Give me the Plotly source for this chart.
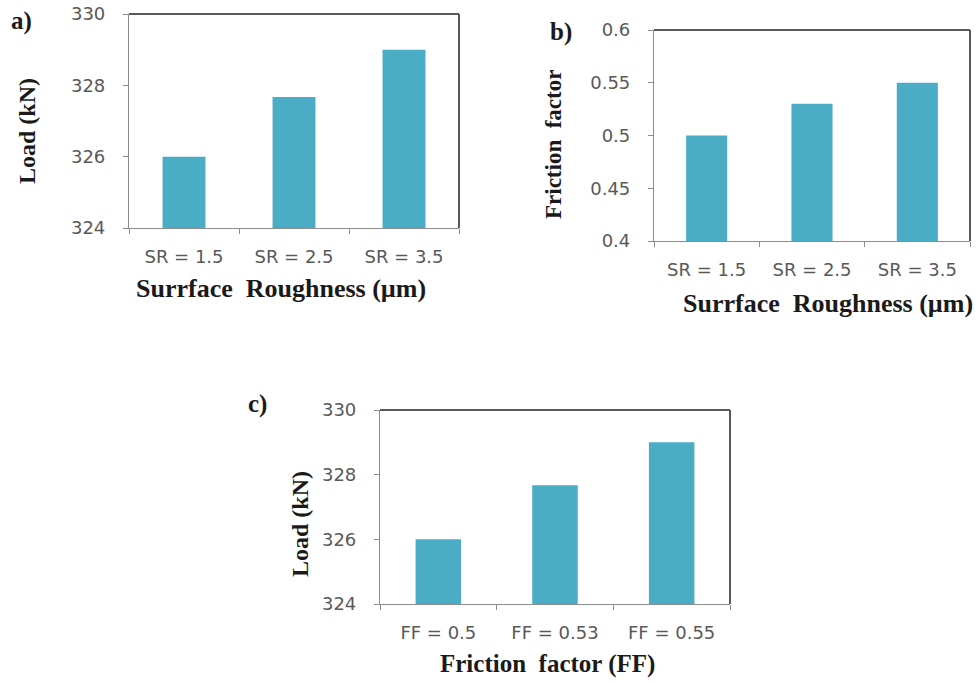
import plotly.graph_objects as go

# ---- data ----
sr_labels = ["SR = 1.5", "SR = 2.5", "SR = 3.5"]
load_vs_sr = [326.0, 327.67, 329.0]
friction_vs_sr = [0.5, 0.53, 0.55]
ff_labels = ["FF = 0.5", "FF = 0.53", "FF = 0.55"]
load_vs_ff = [326.0, 327.67, 329.0]

load_ticks = [324, 326, 328, 330]
friction_ticks = [0.4, 0.45, 0.5, 0.55, 0.6]
friction_ticktext = ["0.4", "0.45", "0.5", "0.55", "0.6"]

W, H = 979, 683
BAR = "#4BACC6"
TICKC = "#595959"
AXC = "#8C8C8C"
BORDER = "#595959"
TICKFONT = dict(family="DejaVu Sans", size=18, color=TICKC)
TITLEFONT = dict(family="Liberation Serif", size=26, color="#1a1a1a")

def px_x(x):
    return x / W

def px_y(y):
    return 1 - y / H

fig = go.Figure()

panels = [
    ("x", "y", (129, 459), (14, 228), sr_labels, load_vs_sr, [324, 330], load_ticks, [str(t) for t in load_ticks]),
    ("x2", "y2", (654, 970), (30, 241), sr_labels, friction_vs_sr, [0.4, 0.6], friction_ticks, friction_ticktext),
    ("x3", "y3", (380, 730), (410, 604), ff_labels, load_vs_ff, [324, 330], load_ticks, [str(t) for t in load_ticks]),
]

layout_axes = {}
for xa, ya, (xl, xr), (yt, yb), cats, vals, yr, tv, tt in panels:
    fig.add_trace(go.Bar(x=cats, y=vals, xaxis=xa, yaxis=ya, marker=dict(color=BAR, line=dict(width=0)),
                         showlegend=False))
    xkey = "xaxis" + xa[1:]
    ykey = "yaxis" + ya[1:]
    layout_axes[xkey] = dict(
        domain=[px_x(xl), px_x(xr)], anchor=ya, type="category",
        showline=True, linecolor=AXC, linewidth=1.2, mirror=False,
        ticks="outside", tickson="boundaries", ticklen=5, tickcolor=AXC,
        tickfont=TICKFONT, showgrid=False, zeroline=False, ticklabelstandoff=12,
        fixedrange=True, automargin=False,
    )
    layout_axes[ykey] = dict(
        domain=[px_y(yb), px_y(yt)], anchor=xa, range=yr,
        tickvals=tv, ticktext=tt,
        showline=True, linecolor=AXC, linewidth=1.2, mirror=False,
        ticks="outside", ticklen=5, tickcolor=AXC,
        tickfont=TICKFONT, showgrid=False, zeroline=False, ticklabelstandoff=14,
        fixedrange=True, automargin=False,
    )
    fig.add_shape(type="line", xref=f"{xa} domain", yref=f"{ya} domain", x0=0, x1=1, y0=1, y1=1,
                  line=dict(color=BORDER, width=2))
    fig.add_shape(type="line", xref=f"{xa} domain", yref=f"{ya} domain", x0=1, x1=1, y0=0, y1=1,
                  line=dict(color=BORDER, width=2))

annotations = [
    dict(text="<b>a)</b>", x=px_x(21), y=px_y(21), size=25),
    dict(text="<b>b)</b>", x=px_x(561), y=px_y(32), size=25),
    dict(text="<b>c)</b>", x=px_x(257), y=px_y(404), size=25),
    dict(text="<b>Surrface  Roughness (µm)</b>", x=px_x(281), y=px_y(289)),
    dict(text="<b>Load (kN)</b>", x=px_x(27), y=px_y(131), angle=-90, size=24),
    dict(text="<b>Surrface  Roughness (µm)</b>", x=px_x(828), y=px_y(303)),
    dict(text="<b>Friction  factor</b>", x=px_x(553), y=px_y(145), angle=-90, size=23),
    dict(text="<b>Friction  factor (FF)</b>", x=px_x(547), y=px_y(664), size=25),
    dict(text="<b>Load (kN)</b>", x=px_x(300), y=px_y(524), angle=-90, size=24),
]
ann_list = []
for a in annotations:
    f = dict(TITLEFONT)
    if "size" in a:
        f["size"] = a["size"]
    ann_list.append(dict(text=a["text"], x=a["x"], y=a["y"], xref="paper", yref="paper",
                         xanchor="center", yanchor="middle", showarrow=False,
                         textangle=a.get("angle", 0), font=f))

fig.update_layout(
    width=W, height=H, margin=dict(l=0, r=0, t=0, b=0),
    paper_bgcolor="white", plot_bgcolor="white",
    bargap=0.61, annotations=ann_list,
    **layout_axes,
)

fig.write_html("out.html", config={"displayModeBar": False})
